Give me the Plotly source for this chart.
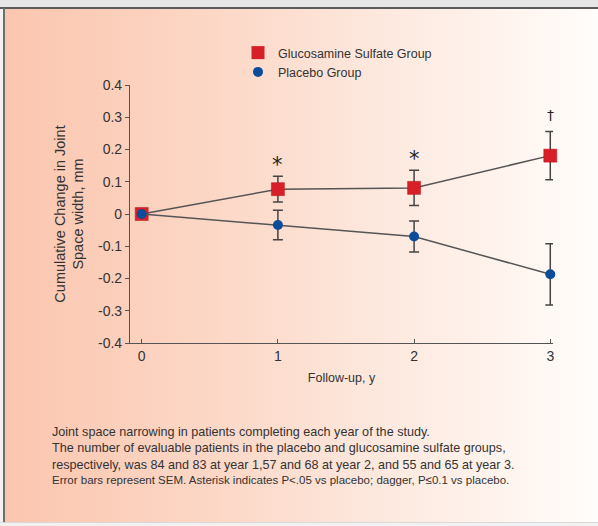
import base64
import plotly.graph_objects as go

# ---- data ----
years = [0, 1, 2, 3]
glucosamine = [0.0, 0.077, 0.081, 0.181]
glucosamine_sem = [0.0, 0.040, 0.055, 0.075]
placebo = [0.0, -0.034, -0.070, -0.187]
placebo_sem = [0.0, 0.046, 0.048, 0.095]
sig_marks = ["", "*", "*", "\u2020"]
y_ticks = [0.4, 0.3, 0.2, 0.1, 0, -0.1, -0.2, -0.3, -0.4]
y_tick_labels = ["0.4", "0.3", "0.2", "0.1", "0", "-0.1", "-0.2", "-0.3", "-0.4"]
x_tick_labels = ["0", "1", "2", "3"]

W, H = 598, 526
L, R, T, B = 130, 45, 85, 183
pw, ph = W - L - R, H - T - B

RED = "#d71f28"
BLUE = "#0d4c99"
LINE = "#555555"
TXT = "#333333"
SANS = "Liberation Sans, Arial, sans-serif"

# background (gradient panel with frame)
svg = f'''<svg xmlns="http://www.w3.org/2000/svg" width="{W}" height="{H}" viewBox="0 0 {W} {H}" preserveAspectRatio="none">
<defs><linearGradient id="g" x1="0" x2="1" y1="0" y2="0">
<stop offset="0" stop-color="#fbc6af"/>
<stop offset="0.35" stop-color="#fcd7c6"/>
<stop offset="0.65" stop-color="#fde9df"/>
<stop offset="0.88" stop-color="#fff6f1"/>
<stop offset="1" stop-color="#fffdfb"/>
</linearGradient></defs>
<rect x="0" y="0" width="{W}" height="{H}" fill="#f2f2f2"/>
<rect x="4" y="8" width="{W-4}" height="514" fill="url(#g)"/>
<rect x="0" y="0" width="{W}" height="7" fill="#e6e6e6"/>
<rect x="0" y="7" width="{W}" height="2" fill="#5a5a5a"/>
<rect x="3" y="8" width="2" height="514" fill="#6e6e6e"/>
<rect x="0" y="522" width="{W}" height="1" fill="#d8d8d8"/>
</svg>'''
src = "data:image/svg+xml;base64," + base64.b64encode(svg.encode()).decode()

fig = go.Figure()

fig.add_trace(go.Scatter(
    x=years, y=glucosamine, mode="lines+markers", showlegend=False,
    line=dict(color=LINE, width=1.5),
    marker=dict(symbol="square", size=13, color=RED, line=dict(color="#b8141c", width=0.5)),
    error_y=dict(type="data", array=glucosamine_sem, color="#444", thickness=1.5, width=5),
    cliponaxis=False,
))
fig.add_trace(go.Scatter(
    x=years, y=placebo, mode="lines+markers", showlegend=False,
    line=dict(color=LINE, width=1.5),
    marker=dict(symbol="circle", size=10, color=BLUE),
    error_y=dict(type="data", array=placebo_sem, color="#444", thickness=1.5, width=5),
    cliponaxis=False,
))
# legend entries
fig.add_trace(go.Scatter(x=[None], y=[None], mode="markers", name="Glucosamine Sulfate Group",
                         marker=dict(symbol="square", size=13, color=RED)))
fig.add_trace(go.Scatter(x=[None], y=[None], mode="markers", name="Placebo Group",
                         marker=dict(symbol="circle", size=10, color=BLUE)))

# significance marks above glucosamine error bars
for xv, g, e, m in zip(years, glucosamine, glucosamine_sem, sig_marks):
    if not m:
        continue
    if m == "*":
        fig.add_annotation(x=xv, y=g + e, yanchor="bottom", yshift=-3, showarrow=False, text=m,
                           font=dict(family="DejaVu Sans", size=21, color="#222"))
    else:
        fig.add_annotation(x=xv, y=g + e, yanchor="bottom", yshift=6, showarrow=False, text=m,
                           font=dict(family="DejaVu Sans", size=14, color="#222"))

fig.update_layout(
    width=W, height=H,
    margin=dict(l=L, r=R, t=T, b=B, pad=0),
    paper_bgcolor="rgba(0,0,0,0)", plot_bgcolor="rgba(0,0,0,0)",
    font=dict(family=SANS, size=13, color=TXT),
    images=[dict(source=src, xref="paper", yref="paper",
                 x=-L / pw, y=1 + T / ph, sizex=W / pw, sizey=H / ph,
                 xanchor="left", yanchor="top", sizing="stretch", layer="below")],
    legend=dict(x=(238 - L) / pw, y=(ph + T - 38) / ph, xanchor="left", yanchor="top",
                bgcolor="rgba(0,0,0,0)", font=dict(family=SANS, size=12.5, color=TXT),
                itemwidth=30, tracegroupgap=0),
    xaxis=dict(range=[-0.086, 3.02], tickvals=years, ticktext=x_tick_labels,
               showgrid=False, zeroline=False, showline=True, linecolor="#555", linewidth=1.2,
               ticks="inside", ticklen=4, tickcolor="#555", tickwidth=1.2,
               tickfont=dict(family=SANS, size=14, color=TXT),
               title=dict(text="Follow-up, y", font=dict(family=SANS, size=12.5, color=TXT), standoff=10)),
    yaxis=dict(range=[-0.4, 0.4], tickvals=y_ticks, ticktext=y_tick_labels,
               showgrid=False, zeroline=False, showline=True, linecolor="#555", linewidth=1.2,
               ticks="outside", ticklen=4, tickcolor="#555", tickwidth=1.2,
               tickfont=dict(family=SANS, size=14, color=TXT),
               title=dict(text="Cumulative Change in Joint<br>Space width, mm",
                          font=dict(family=SANS, size=14.5, color=TXT), standoff=10)),
)

fig.add_annotation(
    xref="paper", yref="paper", x=(50 - L) / pw, y=(ph + T - 423) / ph,
    xanchor="left", yanchor="top", align="left", showarrow=False,
    text=("Joint space narrowing in patients completing each year of the study.<br>"
          "The number of evaluable patients in the placebo and glucosamine sulfate groups,<br>"
          "respectively, was 84 and 83 at year 1,57 and 68 at year 2, and 55 and 65 at year 3."),
    font=dict(family=SANS, size=12.6, color=TXT),
)
fig.add_annotation(
    xref="paper", yref="paper", x=(50 - L) / pw, y=(ph + T - 472) / ph,
    xanchor="left", yanchor="top", align="left", showarrow=False,
    text="Error bars represent SEM. Asterisk indicates P<.05 vs placebo; dagger, P\u22640.1 vs placebo.",
    font=dict(family=SANS, size=11.5, color=TXT),
)

fig.write_html("out.html", config={"displayModeBar": False},
               post_script="document.body.style.margin='0';document.body.style.padding='0';")
